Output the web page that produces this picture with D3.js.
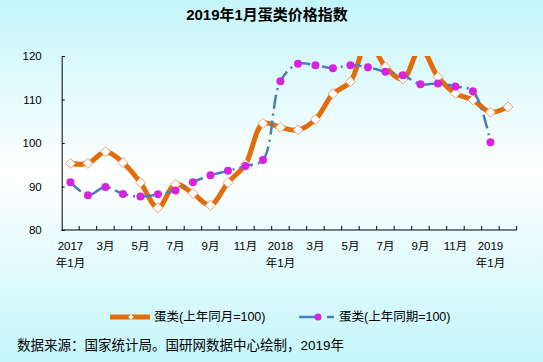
<!DOCTYPE html>
<html>
<head>
<meta charset="utf-8">
<script src="https://cdn.jsdelivr.net/npm/d3@7"></script>
<style>
  body { margin: 0; }
  svg { display: block; font-family: "Liberation Sans", "Noto Sans CJK SC", sans-serif; }
</style>
</head>
<body>
<svg id="chart" width="543" height="362"></svg>
<script>
// months 2017-01 .. 2019-02
var months = ["2017-01","2017-02","2017-03","2017-04","2017-05","2017-06","2017-07","2017-08","2017-09","2017-10","2017-11","2017-12",
              "2018-01","2018-02","2018-03","2018-04","2018-05","2018-06","2018-07","2018-08","2018-09","2018-10","2018-11","2018-12",
              "2019-01","2019-02"];
var tickLabels = ["2017\n年1月","","3月","","5月","","7月","","9月","","11月","",
                  "2018\n年1月","","3月","","5月","","7月","","9月","","11月","",
                  "2019\n年1月",""];

// 上年同月=100
var sameMonth = [95.3,95.3,98.0,95.5,90.9,85.1,90.5,88.4,85.7,90.9,95.1,104.5,
                 103.6,103.0,105.4,111.3,114.1,123.5,117.5,114.7,121.8,115.2,111.4,109.9,
                 107.1,108.3];
// 上年同期=100 (no value for 2019-02)
var samePeriod = [91.0,88.0,89.9,88.3,87.7,88.2,89.1,91.0,92.6,93.6,94.7,96.1,
                  114.2,118.2,117.9,117.2,117.9,117.4,116.4,115.6,113.5,113.7,113.0,111.9,
                  100.2];

var yTicks = [80, 90, 100, 110, 120];

var orange = "#e36c0a", blue = "#4a7ebb", magenta = "#d822e0";

var svg = d3.select("#chart");

// background gradient
var defs = svg.append("defs");
var grad = defs.append("linearGradient").attr("id", "bg").attr("x1", 0).attr("y1", 0).attr("x2", 0).attr("y2", 1);
grad.append("stop").attr("offset", "0%").attr("stop-color", "#c4f6fb");
grad.append("stop").attr("offset", "48%").attr("stop-color", "#ffffff");
grad.append("stop").attr("offset", "100%").attr("stop-color", "#c4f6fb");
svg.append("rect").attr("width", 543).attr("height", 362).attr("fill", "url(#bg)");

var plotL = 61.7, plotR = 516.7, plotT = 56, plotB = 230;

defs.append("clipPath").attr("id", "plot")
  .append("rect").attr("x", plotL).attr("y", plotT).attr("width", plotR - plotL).attr("height", plotB - plotT);

var x = d3.scaleBand().domain(months).range([plotL, plotR]);
var y = d3.scaleLinear().domain([80, 120]).range([plotB, plotT]);
var cx = function(m){ return x(m) + x.bandwidth() / 2; };

// title
svg.append("text")
  .attr("x", 267).attr("y", 20)
  .attr("text-anchor", "middle")
  .style("font-size", "15px").style("font-weight", "bold")
  .text("2019年1月蛋类价格指数");

// y axis
var yAxis = svg.append("g")
  .attr("transform", "translate(" + plotL + ",0)")
  .call(d3.axisLeft(y).tickValues(yTicks).tickSize(-3).tickPadding(20));
yAxis.attr("font-family", null);
yAxis.select(".domain").attr("stroke", "#000");
yAxis.selectAll(".tick line").attr("stroke", "#000");
yAxis.selectAll("text").style("font-size", "11.5px").attr("fill", "#000");

// x axis: ticks at band edges, labels at band centers
var xAxis = svg.append("g").attr("transform", "translate(0," + plotB + ")");
xAxis.append("line").attr("x1", plotL).attr("x2", plotR).attr("stroke", "#000");
xAxis.selectAll("line.tk")
  .data(months)
  .enter().append("line")
  .attr("class", "tk")
  .attr("x1", function(m){ return x(m) + x.bandwidth(); })
  .attr("x2", function(m){ return x(m) + x.bandwidth(); })
  .attr("y1", 0).attr("y2", -4)
  .attr("stroke", "#000");

var lbl = xAxis.selectAll("text.lb")
  .data(months.filter(function(m, i){ return tickLabels[i] !== ""; }))
  .enter().append("text")
  .attr("class", "lb")
  .attr("text-anchor", "middle")
  .style("font-size", "11.5px");
lbl.each(function(m){
  var parts = tickLabels[months.indexOf(m)].split("\n");
  var t = d3.select(this);
  parts.forEach(function(p, k){
    t.append("tspan").attr("x", cx(m)).attr("y", 20 + k * 17).text(p);
  });
});

var plot = svg.append("g").attr("clip-path", "url(#plot)");

var line2 = d3.line()
  .x(function(d, i){ return cx(months[i]); })
  .y(function(d){ return y(d); })
  .curve(d3.curveCatmullRom);

// 上年同月 line
plot.append("path")
  .datum(sameMonth)
  .attr("d", line2)
  .attr("fill", "none")
  .attr("stroke", orange)
  .attr("stroke-width", 5)
  .attr("stroke-linejoin", "round");

var diamond = d3.symbol().type(d3.symbolDiamond2).size(64);
plot.selectAll("path.dm")
  .data(sameMonth)
  .enter().append("path")
  .attr("class", "dm")
  .attr("d", diamond)
  .attr("transform", function(d, i){ return "translate(" + cx(months[i]) + "," + y(d) + ")"; })
  .attr("fill", "#fff")
  .attr("stroke", "#e8a070")
  .attr("stroke-width", 1);

// 上年同期 line (dash-dot), drawn on top
plot.append("path")
  .datum(samePeriod)
  .attr("d", line2)
  .attr("fill", "none")
  .attr("stroke", blue)
  .attr("stroke-width", 2.5)
  .attr("stroke-dasharray", "14,5,2,5");

plot.selectAll("circle.p")
  .data(samePeriod)
  .enter().append("circle")
  .attr("class", "p")
  .attr("cx", function(d, i){ return cx(months[i]); })
  .attr("cy", function(d){ return y(d); })
  .attr("r", 4)
  .attr("fill", magenta);

// legend
var lg = svg.append("g").style("font-size", "12.5px");
lg.append("line").attr("x1", 110).attr("x2", 150).attr("y1", 317).attr("y2", 317)
  .attr("stroke", orange).attr("stroke-width", 5);
lg.append("path").attr("d", d3.symbol().type(d3.symbolDiamond2).size(18))
  .attr("transform", "translate(131,317)").attr("fill", "#fff");
lg.append("text").attr("x", 154).attr("y", 321).text("蛋类(上年同月=100)");

lg.append("line").attr("x1", 299).attr("x2", 334).attr("y1", 317).attr("y2", 317)
  .attr("stroke", blue).attr("stroke-width", 2.5).attr("stroke-dasharray", "22,6,7,2");
lg.append("circle").attr("cx", 318).attr("cy", 317).attr("r", 3.5).attr("fill", magenta);
lg.append("text").attr("x", 339).attr("y", 321).text("蛋类(上年同期=100)");

// source
svg.append("text")
  .attr("x", 17).attr("y", 350)
  .style("font-size", "13.5px")
  .text("数据来源：国家统计局。国研网数据中心绘制，2019年");
</script>
</body>
</html>
